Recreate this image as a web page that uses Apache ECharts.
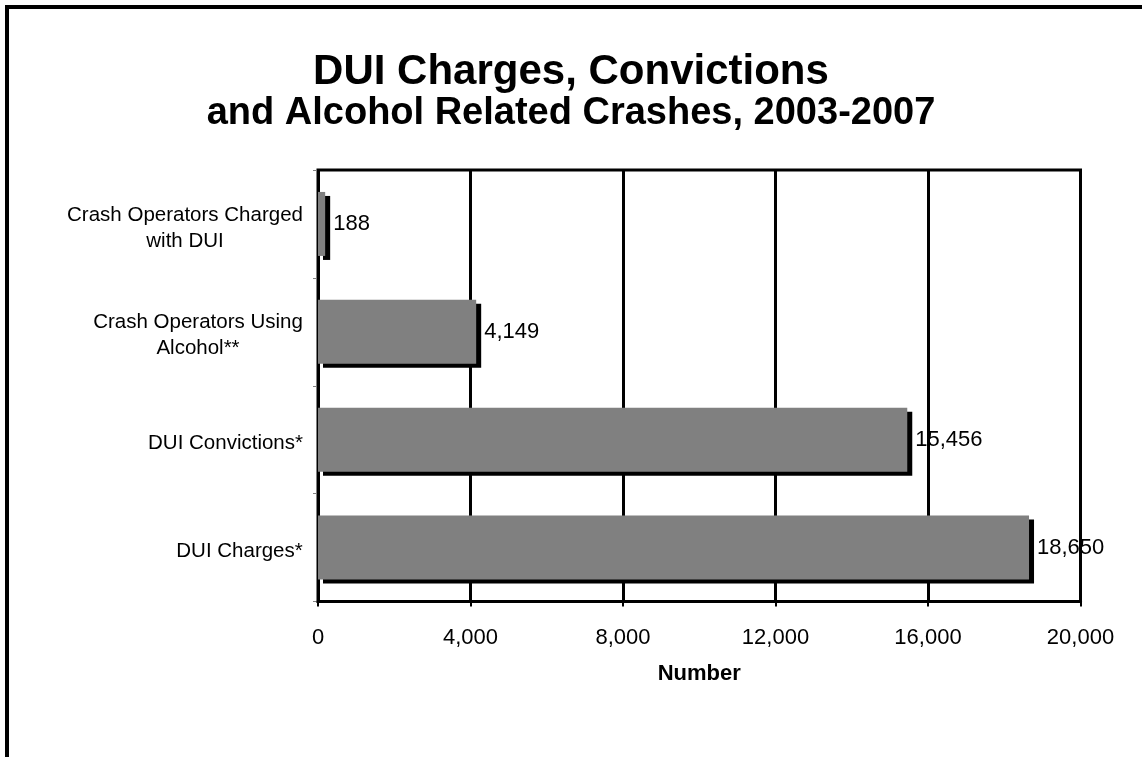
<!DOCTYPE html>
<html>
<head>
<meta charset="utf-8">
<script src="https://cdn.jsdelivr.net/npm/echarts@6/dist/echarts.min.js"></script>
<style>
  html, body { margin: 0; padding: 0; background: #fff; }
  #chart { width: 1142px; height: 757px; }
</style>
</head>
<body>
<div id="chart"></div>
<script>
// ---- data ----
const categories = [
  'DUI Charges*',
  'DUI Convictions*',
  'Crash Operators Using\nAlcohol**',
  'Crash Operators Charged\nwith DUI'
];
const values = [18650, 15456, 4149, 188];
const xTicks = [0, 4000, 8000, 12000, 16000, 20000];
const titleText = 'DUI Charges, Convictions';
const subtitleText = 'and Alcohol Related Crashes, 2003-2007';
const axisName = 'Number';

// ---- helpers ----
const FONT = '"Liberation Sans", Arial, sans-serif';
const catFontSize = 20.5;
const cvs = document.createElement('canvas').getContext('2d');
cvs.font = catFontSize + 'px ' + FONT;
const rich = {};
const catKey = {};
categories.forEach((c, i) => {
  const w = Math.max(...c.split('\n').map(s => cvs.measureText(s).width));
  rich['c' + i] = { width: Math.ceil(w), align: 'center', fontSize: catFontSize, fontFamily: FONT, color: '#000', lineHeight: 26 };
  catKey[c] = 'c' + i;
});
const fmtNum = v => v.toLocaleString('en-US');

const chart = echarts.init(document.getElementById('chart'), null, { renderer: 'canvas' });
chart.setOption({
  backgroundColor: '#fff',
  animation: false,
  title: [
    { text: titleText, left: 'center', top: 46,
      textStyle: { fontFamily: FONT, fontWeight: 'bold', fontSize: 42, color: '#000' } },
    { text: subtitleText, left: 'center', top: 90,
      textStyle: { fontFamily: FONT, fontWeight: 'bold', fontSize: 38, color: '#000' } }
  ],
  graphic: [
    { type: 'line', shape: { x1: 5, y1: 7, x2: 1142, y2: 7 }, style: { stroke: '#000', lineWidth: 4 }, z: 100 },
    { type: 'line', shape: { x1: 7, y1: 5, x2: 7, y2: 757 }, style: { stroke: '#000', lineWidth: 4 }, z: 100 }
  ],
  grid: {
    left: 318, right: 61.5, top: 170, bottom: 155.5,
    show: true, borderColor: '#000', borderWidth: 3, backgroundColor: 'transparent'
  },
  xAxis: {
    type: 'value', min: xTicks[0], max: xTicks[xTicks.length - 1], interval: xTicks[1] - xTicks[0],
    z: 2,
    name: axisName, nameLocation: 'middle', nameGap: 61,
    nameTextStyle: { fontFamily: FONT, fontWeight: 'bold', fontSize: 22, color: '#000' },
    axisLine: { show: true, lineStyle: { color: '#000', width: 3 } },
    axisTick: { show: true, length: 5, lineStyle: { color: '#000', width: 2 } },
    axisLabel: { margin: 25, fontFamily: FONT, fontSize: 22, color: '#000', formatter: v => fmtNum(v) },
    splitLine: { show: true, lineStyle: { color: '#000', width: 3 } }
  },
  yAxis: {
    type: 'category', data: categories,
    axisLine: { show: true, lineStyle: { color: '#000', width: 2 } },
    axisTick: { show: true, length: 5, lineStyle: { color: '#808080', width: 1 } },
    axisLabel: {
      margin: 15, align: 'right', padding: [8, 0, 0, 0],
      formatter: v => v.split('\n').map(s => '{' + catKey[v] + '|' + s + '}').join('\n'),
      rich: rich
    },
    splitLine: { show: false }
  },
  series: [
    {
      type: 'bar', data: values, barWidth: 64, z: 1,
      itemStyle: { color: 'rgba(0,0,0,0)' },
      label: { show: true, position: 'right', distance: 8, fontFamily: FONT, fontSize: 22, color: '#000',
               formatter: p => fmtNum(p.value) },
      silent: true
    },
    {
      type: 'bar', data: values, barWidth: 64, barGap: '-100%', z: 3,
      itemStyle: { color: '#808080', shadowColor: '#000', shadowOffsetX: 5, shadowOffsetY: 4, shadowBlur: 0 },
      label: { show: false }
    }
  ]
});
</script>
</body>
</html>
